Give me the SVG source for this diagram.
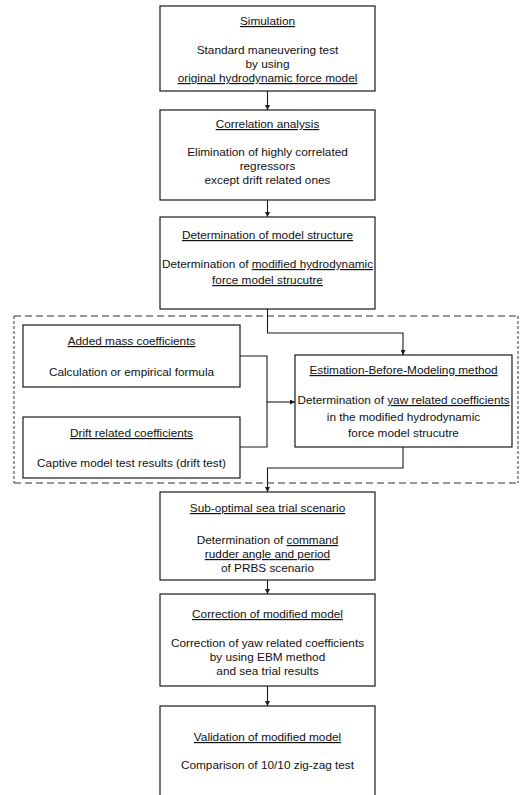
<svg xmlns="http://www.w3.org/2000/svg" width="521" height="795" viewBox="0 0 521 795">
<style>
.box{fill:#fff;stroke:#1a1a1a;stroke-width:1.2}
.t{font-family:"Liberation Sans",Arial,sans-serif;font-size:11.8px;fill:#111;text-anchor:middle}
.u{text-decoration:underline}
.c{fill:none;stroke:#1a1a1a;stroke-width:1.1}
.d{fill:none;stroke:#333;stroke-width:1.1;stroke-dasharray:7 4}
.dv{fill:none;stroke:#444;stroke-width:1.1;stroke-dasharray:3 2}
</style>
<defs>
<marker id="ah" viewBox="0 0 8 8" refX="8" refY="4" markerWidth="5" markerHeight="5" orient="auto" markerUnits="userSpaceOnUse">
<path d="M0,0 L8,4 L0,8 Z" fill="#1a1a1a"/>
</marker>
</defs>
<rect width="521" height="795" fill="#fff"/>

<g id="region">
<path class="d" d="M14,316 H518 M14,483 H518"/>
<path class="dv" d="M14,316 V483 M518,316 V483"/>
</g>

<g id="connectors">
<path class="c" d="M267.5,91 V110" marker-end="url(#ah)"/>
<path class="c" d="M267.5,200 V217" marker-end="url(#ah)"/>
<path class="c" d="M267.5,309 V333 H403 V355" marker-end="url(#ah)"/>
<path class="c" d="M240,356 H267 V447 H240"/>
<path class="c" d="M267,402 H295" marker-end="url(#ah)"/>
<path class="c" d="M403,447 V468 H267.5 V492" marker-end="url(#ah)"/>
<path class="c" d="M267.5,580 V594" marker-end="url(#ah)"/>
<path class="c" d="M267.5,686 V706" marker-end="url(#ah)"/>
</g>

<g id="simulation">
<rect class="box" x="160" y="6" width="215" height="85"/>
<text class="t u" x="267.5" y="25">Simulation</text>
<text class="t" x="267.5" y="54">Standard maneuvering test</text>
<text class="t" x="267.5" y="68">by using</text>
<text class="t u" x="267.5" y="82">original hydrodynamic force model</text>
</g>

<g id="correlation">
<rect class="box" x="160" y="110" width="215" height="90"/>
<text class="t u" x="267.5" y="128">Correlation analysis</text>
<text class="t" x="267.5" y="156">Elimination of highly correlated</text>
<text class="t" x="267.5" y="170">regressors</text>
<text class="t" x="267.5" y="184">except drift related ones</text>
</g>

<g id="structure">
<rect class="box" x="160" y="217" width="215" height="92"/>
<text class="t u" x="267.5" y="239">Determination of model structure</text>
<text class="t" x="267.5" y="268">Determination of <tspan class="u">modified hydrodynamic</tspan></text>
<text class="t u" x="267.5" y="284">force model strucutre</text>
</g>

<g id="added-mass">
<rect class="box" x="23" y="325" width="217" height="62"/>
<text class="t u" x="131.5" y="345">Added mass coefficients</text>
<text class="t" x="131.5" y="376">Calculation or empirical formula</text>
</g>

<g id="drift">
<rect class="box" x="23" y="417" width="217" height="61"/>
<text class="t u" x="131.5" y="437">Drift related coefficients</text>
<text class="t" x="131.5" y="467">Captive model test results (drift test)</text>
</g>

<g id="ebm">
<rect class="box" x="295" y="355" width="217" height="92"/>
<text class="t u" x="403.5" y="374">Estimation-Before-Modeling method</text>
<text class="t" x="403.5" y="404">Determination of <tspan class="u">yaw related coefficients</tspan></text>
<text class="t" x="403.5" y="421">in the modified hydrodynamic</text>
<text class="t" x="403.5" y="437">force model strucutre</text>
</g>

<g id="sea-trial">
<rect class="box" x="160" y="492" width="215" height="88"/>
<text class="t u" x="267.5" y="512">Sub-optimal sea trial scenario</text>
<text class="t" x="267.5" y="544">Determination of <tspan class="u">command</tspan></text>
<text class="t u" x="267.5" y="558">rudder angle and period</text>
<text class="t" x="267.5" y="572">of PRBS scenario</text>
</g>

<g id="correction">
<rect class="box" x="160" y="594" width="215" height="92"/>
<text class="t u" x="267.5" y="618">Correction of modified model</text>
<text class="t" x="267.5" y="647">Correction of yaw related coefficients</text>
<text class="t" x="267.5" y="661">by using EBM method</text>
<text class="t" x="267.5" y="675">and sea trial results</text>
</g>

<g id="validation">
<rect class="box" x="160" y="706" width="215" height="100"/>
<text class="t u" x="267.5" y="741">Validation of modified model</text>
<text class="t" x="267.5" y="769">Comparison of 10/10 zig-zag test</text>
</g>
</svg>
